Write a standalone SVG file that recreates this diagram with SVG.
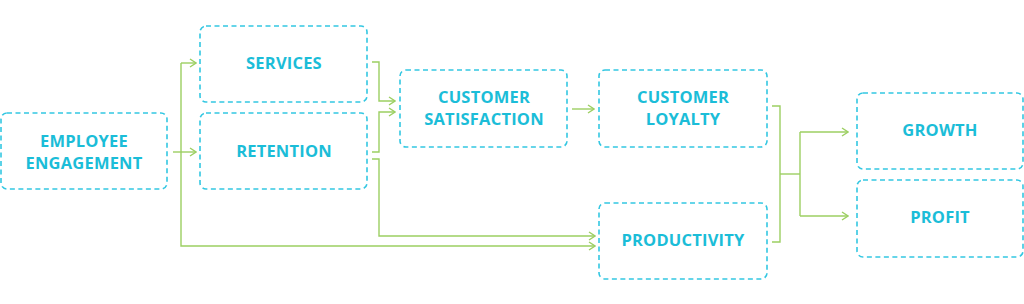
<svg xmlns="http://www.w3.org/2000/svg" width="1024" height="304" viewBox="0 0 1024 304">
<style>
.box{fill:none;stroke:#33C7E2;stroke-width:1.6;stroke-dasharray:5,3.5}
.lbl{font-family:"Open Sans","DejaVu Sans",sans-serif;font-weight:700;font-size:16.5px;letter-spacing:0.2px;fill:#1BBDD8;text-anchor:middle}
.con{fill:none;stroke:#9CCF62;stroke-width:1.4}
</style>
<defs>
<marker id="ah" viewBox="0 0 10 10" refX="9" refY="5" markerWidth="10" markerHeight="10" markerUnits="userSpaceOnUse" orient="auto">
<path d="M3,1 L9,5 L3,9" fill="none" stroke="#9CCF62" stroke-width="1.4"/>
</marker>
</defs>
<rect width="1024" height="304" fill="#fff"/>
<g id="connectors">
<path class="con" d="M173,152 H196" marker-end="url(#ah)"/>
<path class="con" d="M181,63 H196" marker-end="url(#ah)"/>
<path class="con" d="M181,63 V246 H595" marker-end="url(#ah)"/>
<path class="con" d="M372,62 H379 V101 H395" marker-end="url(#ah)"/>
<path class="con" d="M372,152 H379 V112 H395" marker-end="url(#ah)"/>
<path class="con" d="M372,159 H379 V236 H595" marker-end="url(#ah)"/>
<path class="con" d="M572,109 H594" marker-end="url(#ah)"/>
<path class="con" d="M772,106 H780 V242 H772"/>
<path class="con" d="M780,174 H800"/>
<path class="con" d="M800,132 V216"/>
<path class="con" d="M800,132 H848" marker-end="url(#ah)"/>
<path class="con" d="M800,216 H848" marker-end="url(#ah)"/>
</g>
<g id="employee-engagement">
<rect class="box" x="1" y="113" width="166" height="76" rx="6"/>
<text class="lbl" x="84" y="147">EMPLOYEE</text>
<text class="lbl" x="84" y="169">ENGAGEMENT</text>
</g>
<g id="services">
<rect class="box" x="200" y="26" width="167" height="76" rx="6"/>
<text class="lbl" x="284" y="69">SERVICES</text>
</g>
<g id="retention">
<rect class="box" x="200" y="113" width="167" height="76" rx="6"/>
<text class="lbl" x="284" y="157">RETENTION</text>
</g>
<g id="customer-satisfaction">
<rect class="box" x="400" y="70" width="167" height="77" rx="6"/>
<text class="lbl" x="484" y="103">CUSTOMER</text>
<text class="lbl" x="484" y="125">SATISFACTION</text>
</g>
<g id="customer-loyalty">
<rect class="box" x="599" y="70" width="168" height="77" rx="6"/>
<text class="lbl" x="683" y="103">CUSTOMER</text>
<text class="lbl" x="683" y="125">LOYALTY</text>
</g>
<g id="productivity">
<rect class="box" x="599" y="203" width="168" height="76" rx="6"/>
<text class="lbl" x="683" y="246">PRODUCTIVITY</text>
</g>
<g id="growth">
<rect class="box" x="857" y="93" width="166" height="76" rx="6"/>
<text class="lbl" x="940" y="136">GROWTH</text>
</g>
<g id="profit">
<rect class="box" x="857" y="180" width="166" height="77" rx="6"/>
<text class="lbl" x="940" y="223">PROFIT</text>
</g>
</svg>
